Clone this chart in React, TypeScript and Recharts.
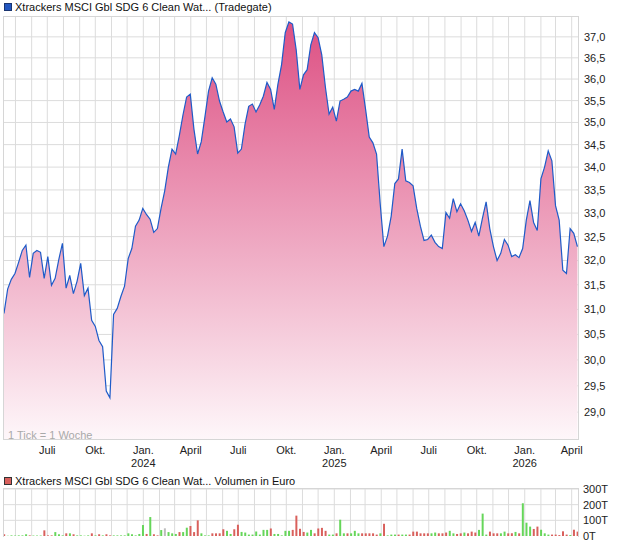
import React from 'react';
import { AreaChart, Area, BarChart, Bar, Cell, XAxis, YAxis, ReferenceLine } from 'recharts';

const FONT = '"Liberation Sans", Arial, Helvetica, sans-serif';

const titleText = 'Xtrackers MSCI Gbl SDG 6 Clean Wat... (Tradegate)';
const volumeTitleText = 'Xtrackers MSCI Gbl SDG 6 Clean Wat... Volumen in Euro';
const tickNote = '1 Tick = 1 Woche';

const firstWeek = '2023-04-09';
const lastDay = '2026-04-15';

// weekly closing prices (EUR)
const prices = [
  30.92, 31.41, 31.61, 31.73, 31.96, 32.21, 32.32, 31.65, 32.15, 32.21,
  32.17, 31.63, 32.08, 31.49, 31.63, 32.02, 32.36, 31.43, 31.69, 31.32,
  31.57, 31.94, 31.28, 31.43, 30.78, 30.66, 30.38, 30.26, 29.40, 29.27,
  30.90, 31.02, 31.26, 31.47, 32.04, 32.25, 32.72, 32.85, 33.10, 32.97,
  32.87, 32.59, 32.67, 33.10, 33.48, 34.00, 34.40, 34.29, 34.70, 35.17,
  35.58, 35.65, 34.85, 34.29, 34.56, 35.12, 35.72, 36.03, 35.88, 35.49,
  35.24, 35.01, 35.08, 34.90, 34.31, 34.40, 34.96, 35.37, 35.42, 35.24,
  35.40, 35.60, 35.92, 35.76, 35.30, 35.88, 36.34, 37.10, 37.36, 37.31,
  36.69, 35.76, 36.10, 36.22, 36.81, 37.10, 36.98, 36.57, 35.81, 35.19,
  35.35, 35.03, 35.49, 35.53, 35.58, 35.72, 35.76, 35.72, 35.90, 35.30,
  34.67, 34.54, 34.29, 33.20, 32.29, 32.51, 32.93, 33.64, 33.74, 34.40,
  33.70, 33.66, 33.59, 33.10, 32.72, 32.42, 32.44, 32.53, 32.38, 32.29,
  32.25, 33.01, 32.89, 33.31, 33.03, 33.20, 33.05, 32.85, 32.61, 32.80,
  32.51, 32.89, 33.24, 32.67, 32.29, 32.00, 32.15, 32.44, 32.32, 32.08,
  32.12, 32.06, 32.25, 32.85, 33.27, 32.80, 32.63, 33.74, 34.00, 34.36,
  34.14, 33.16, 32.85, 31.80, 31.73, 32.67, 32.57, 32.29,
];

// weekly volume in thousand EUR
const volumes = [
  11, 2, 4, 3, 4, 4, 11, 4, 3, 3,
  3, 36, 4, 4, 25, 11, 4, 17, 17, 11,
  4, 4, 2, 4, 17, 4, 11, 4, 11, 4,
  4, 4, 4, 4, 17, 11, 4, 13, 70, 13,
  121, 11, 4, 38, 49, 25, 17, 13, 25, 25,
  53, 64, 25, 100, 17, 4, 4, 17, 17, 17,
  43, 33, 13, 43, 72, 26, 22, 9, 9, 28,
  9, 39, 39, 48, 13, 13, 4, 33, 33, 39,
  130, 46, 26, 22, 39, 17, 48, 52, 33, 9,
  9, 17, 104, 17, 17, 17, 33, 17, 17, 17,
  17, 17, 9, 17, 78, 4, 9, 9, 9, 9,
  9, 9, 28, 28, 17, 17, 17, 17, 22, 17,
  17, 22, 33, 17, 13, 17, 22, 17, 28, 22,
  39, 143, 9, 28, 17, 17, 17, 28, 17, 17,
  26, 17, 209, 85, 60, 45, 60, 40, 17, 9,
  9, 9, 6, 30, 9, 6, 40, 28,
];

// g = up week, r = down week, n = unchanged
const volumeDirections =
  'rggggggrgg' + 'grrrgggrgr' + 'ggggrgrgrr' + 'gggggggggr' + 'grrgngggrg' +
  'grrrgggrrr' + 'rggrrggggg' + 'gggrgggggr' + 'rrrggrrrrg' + 'grggrgggrr' +
  'rrrgrgggrg' + 'grrrrrrggr' + 'rrggrrgrrr' + 'gggrrrggrr' + 'grgggrrggg' +
  'rrrrrgrr';

const monthTicks = [
  '2023-05', '2023-06', '2023-07', '2023-08', '2023-09', '2023-10', '2023-11', '2023-12',
  '2024-01', '2024-02', '2024-03', '2024-04', '2024-05', '2024-06', '2024-07', '2024-08',
  '2024-09', '2024-10', '2024-11', '2024-12', '2025-01', '2025-02', '2025-03', '2025-04',
  '2025-05', '2025-06', '2025-07', '2025-08', '2025-09', '2025-10', '2025-11', '2025-12',
  '2026-01', '2026-02', '2026-03', '2026-04',
];
const monthLabels = ['Jan.', '', '', 'April', '', '', 'Juli', '', '', 'Okt.', '', ''];

const priceTicks = [29, 29.5, 30, 30.5, 31, 31.5, 32, 32.5, 33, 33.5, 34, 34.5, 35, 35.5, 36, 36.5, 37];
const priceDomain = [28.48, 37.48];
const volumeTicks = [0, 100, 200, 300];
const volumeDomain = [0, 300];

const DAY = 86400000;
const t0 = Date.parse(firstWeek + 'T00:00:00Z');
const tEnd = Date.parse(lastDay + 'T00:00:00Z');
const data = prices.map((p, i) => ({
  t: t0 + i * 7 * DAY,
  price: p,
  volume: volumes[i],
  dir: volumeDirections[i],
}));
const monthTickValues = monthTicks.map((m) => Date.parse(m + '-01T00:00:00Z'));

const dirColor: Record<string, string> = { g: '#66d65a', r: '#d9605c', n: '#bdbdbd' };
const GRID = '#dcdcdc';

const MonthTick = (props: any) => {
  const { x, y, payload } = props;
  const d = new Date(payload.value);
  const m = d.getUTCMonth();
  const label = monthLabels[m];
  if (!label) return <g />;
  return (
    <g>
      <text x={x} y={y + 14} textAnchor="middle" fontSize={11} fill="#222" fontFamily={FONT}>
        {label}
      </text>
      {m === 0 && (
        <text x={x} y={y + 27} textAnchor="middle" fontSize={11} fill="#222" fontFamily={FONT}>
          {String(d.getUTCFullYear())}
        </text>
      )}
    </g>
  );
};

const fmtPrice = (v: number) => v.toFixed(1).replace('.', ',');
const fmtVol = (v: number) => `${v}T`;

const layer: React.CSSProperties = { position: 'absolute', left: 0, top: 0 };

const priceMargin = { top: 17, right: 0, bottom: 0, left: 4 };
const volumeMargin = { top: 5, right: 0, bottom: 10, left: 4 };

export default function App() {
  return (
    <div
      style={{
        position: 'absolute',
        left: 0,
        top: 0,
        width: 620,
        height: 546,
        background: '#fff',
        fontFamily: FONT,
        overflow: 'hidden',
      }}
    >
      {/* title legend */}
      <div style={{ position: 'absolute', left: 4, top: 3, width: 6, height: 6, background: '#2256c0', border: '1px solid #1a3570' }} />
      <div style={{ position: 'absolute', left: 15, top: 0, fontSize: 11, lineHeight: '14px', color: '#111', whiteSpace: 'nowrap' }}>
        {titleText}
      </div>

      {/* price grid underlay */}
      <div style={layer}>
        <AreaChart width={620} height={470} data={data} margin={priceMargin}>
          <XAxis dataKey="t" type="number" domain={[t0, tEnd]} ticks={monthTickValues} interval={0}
            tick={false} tickLine={false} axisLine={false} height={30} allowDataOverflow />
          <YAxis orientation="right" type="number" scale="log" domain={priceDomain} ticks={priceTicks}
            interval={0} allowDataOverflow width={41} tick={false} tickLine={false} axisLine={false} />
          {monthTickValues.map((v) => (
            <ReferenceLine key={`x${v}`} x={v} stroke={GRID} strokeWidth={1} ifOverflow="hidden" />
          ))}
          {priceTicks.map((v) => (
            <ReferenceLine key={`y${v}`} y={v} stroke={GRID} strokeWidth={1} ifOverflow="hidden" />
          ))}
          <Area type="linear" dataKey="price" stroke="none" fill="none" dot={false} activeDot={false}
            isAnimationActive={false} baseValue="dataMin" />
        </AreaChart>
      </div>

      {/* price chart */}
      <div style={layer}>
        <AreaChart width={620} height={470} data={data} margin={priceMargin}>
          <defs>
            <linearGradient id="priceFill" x1="0" y1="0" x2="0" y2="1">
              <stop offset="0%" stopColor="#dd5083" />
              <stop offset="100%" stopColor="#fef7fa" />
            </linearGradient>
          </defs>
          <XAxis
            dataKey="t"
            type="number"
            domain={[t0, tEnd]}
            ticks={monthTickValues}
            interval={0}
            tick={<MonthTick />}
            tickLine={false}
            axisLine={false}
            tickSize={0}
            tickMargin={0}
            height={30}
            allowDataOverflow
          />
          <YAxis
            orientation="right"
            type="number"
            scale="log"
            domain={priceDomain}
            ticks={priceTicks}
            interval={0}
            allowDataOverflow
            width={41}
            tickLine={false}
            axisLine={false}
            tickSize={0}
            tickMargin={5}
            tickFormatter={fmtPrice}
            tick={{ fontSize: 11, fill: '#222', fontFamily: FONT }}
          />
          <Area
            type="linear"
            dataKey="price"
            stroke="#1f5bc8"
            strokeWidth={1.2}
            fill="url(#priceFill)"
            fillOpacity={1}
            baseValue="dataMin"
            dot={false}
            activeDot={false}
            isAnimationActive={false}
          />
        </AreaChart>
      </div>

      {/* plot border */}
      <div style={{ position: 'absolute', left: 3, top: 16, width: 576, height: 424, border: '1px solid #d6d6d6', boxSizing: 'border-box', pointerEvents: 'none' }} />

      <div style={{ position: 'absolute', left: 8, top: 428, fontSize: 11, lineHeight: '14px', color: '#a9a9a9', whiteSpace: 'nowrap' }}>
        {tickNote}
      </div>

      {/* volume legend */}
      <div style={{ position: 'absolute', left: 4, top: 477, width: 6, height: 6, background: '#d9605c', border: '1px solid #333' }} />
      <div style={{ position: 'absolute', left: 15, top: 474, fontSize: 11, lineHeight: '14px', color: '#111', whiteSpace: 'nowrap' }}>
        {volumeTitleText}
      </div>

      {/* volume grid underlay */}
      <div style={{ position: 'absolute', left: 0, top: 484 }}>
        <BarChart width={620} height={62} data={data} margin={volumeMargin}>
          <XAxis dataKey="t" type="number" domain={[t0, tEnd]} ticks={monthTickValues} interval={0}
            tick={false} tickLine={false} axisLine={false} height={0} allowDataOverflow />
          <YAxis orientation="right" type="number" domain={volumeDomain} ticks={volumeTicks} interval={0}
            width={41} tick={false} tickLine={false} axisLine={false} />
          {monthTickValues.map((v) => (
            <ReferenceLine key={`x${v}`} x={v} stroke={GRID} strokeWidth={1} ifOverflow="hidden" />
          ))}
          {volumeTicks.slice(1).map((v) => (
            <ReferenceLine key={`y${v}`} y={v} stroke={GRID} strokeWidth={1} ifOverflow="hidden" />
          ))}
          <Bar dataKey="volume" fill="none" barSize={2} isAnimationActive={false} />
        </BarChart>
      </div>

      {/* volume chart */}
      <div style={{ position: 'absolute', left: 0, top: 484 }}>
        <BarChart width={620} height={62} data={data} margin={volumeMargin}>
          <XAxis
            dataKey="t"
            type="number"
            domain={[t0, tEnd]}
            ticks={monthTickValues}
            interval={0}
            tick={false}
            tickLine={false}
            axisLine={false}
            height={0}
            allowDataOverflow
          />
          <YAxis
            orientation="right"
            type="number"
            domain={volumeDomain}
            ticks={volumeTicks}
            interval={0}
            width={41}
            tickLine={false}
            axisLine={false}
            tickSize={0}
            tickMargin={4}
            tickFormatter={fmtVol}
            tick={{ fontSize: 11, fill: '#222', fontFamily: FONT }}
          />
          <Bar dataKey="volume" barSize={2} isAnimationActive={false}>
            {data.map((d, i) => (
              <Cell key={i} fill={dirColor[d.dir]} />
            ))}
          </Bar>
        </BarChart>
      </div>
      <div style={{ position: 'absolute', left: 3, top: 488, width: 576, height: 49, borderLeft: '1px solid #d6d6d6', borderRight: '1px solid #d6d6d6', borderTop: '1px solid #d6d6d6', boxSizing: 'border-box', pointerEvents: 'none' }} />
    </div>
  );
}
